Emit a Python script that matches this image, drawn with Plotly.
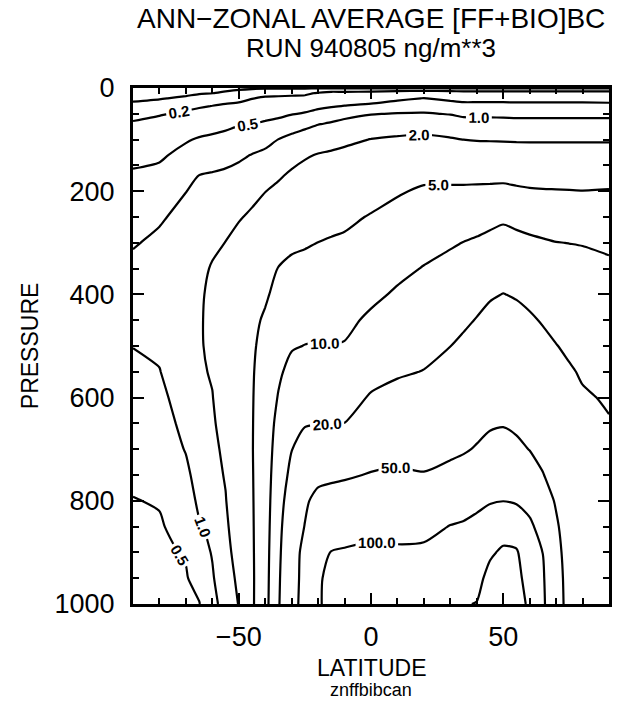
import numpy as np
import plotly.graph_objects as go

# Latitude nodes (deg) and pressure nodes (hPa)
lat = [-90, -80, -70, -65, -60, -55, -50, -45, -40, -35, -30, -25, -20, -15, -10,
       0, 10, 20, 30, 35, 40, 45, 50, 55, 60, 65, 70, 75, 80, 90]
pres = [0, 10, 20, 35, 50, 70, 100, 130, 170, 200, 250, 300, 350, 400, 450, 500,
        550, 600, 650, 700, 750, 800, 850, 900, 950, 1000]

# Estimated BC concentration profiles (ng/m**3), one list per latitude, top -> surface
conc_by_lat = [
    [0.059, 0.071, 0.087, 0.117, 0.158, 0.218, 0.298, 0.409, 0.547, 0.623, 0.77, 0.96, 1.12, 1.22, 1.15, 1.01, 0.896, 0.794, 0.704, 0.625, 0.554, 0.49, 0.45, 0.41, 0.38, 0.35],
    [0.06, 0.076, 0.095, 0.135, 0.19, 0.24, 0.33, 0.45, 0.59, 0.71, 0.94, 1.1, 1.2, 1.3, 1.22, 1.1, 0.98, 0.86, 0.76, 0.67, 0.59, 0.52, 0.47, 0.43, 0.39, 0.36],
    [0.066, 0.086, 0.111, 0.163, 0.222, 0.30, 0.47, 0.60, 0.80, 0.99, 1.15, 1.3, 1.42, 1.5, 1.55, 1.5, 1.4, 1.27, 1.15, 1.03, 0.88, 0.74, 0.62, 0.53, 0.47, 0.42],
    [0.073, 0.095, 0.124, 0.185, 0.244, 0.34, 0.53, 0.70, 1.01, 1.15, 1.35, 1.55, 1.7, 1.8, 1.85, 1.85, 1.8, 1.7, 1.55, 1.38, 1.22, 1.1, 0.95, 0.8, 0.65, 0.48],
    [0.075, 0.099, 0.133, 0.203, 0.26, 0.37, 0.57, 0.76, 1.05, 1.18, 1.45, 1.77, 2.1, 2.3, 2.35, 2.3, 2.12, 1.95, 1.8, 1.6, 1.45, 1.3, 1.12, 1.03, 0.95, 0.85],
    [0.08, 0.11, 0.148, 0.22, 0.29, 0.42, 0.61, 0.82, 1.1, 1.27, 1.6, 2.02, 2.5, 2.9, 3.1, 3.2, 3.1, 2.9, 2.6, 2.35, 2.12, 1.92, 1.7, 1.5, 1.33, 1.2],
    [0.09, 0.117, 0.16, 0.235, 0.32, 0.48, 0.66, 0.9, 1.19, 1.41, 1.9, 2.4, 2.95, 3.5, 3.9, 4.2, 4.3, 4.3, 4.2, 4.0, 3.7, 3.35, 3.0, 2.65, 2.3, 2.05],
    [0.09, 0.14, 0.195, 0.26, 0.35, 0.498, 0.72, 1.02, 1.34, 1.65, 2.2, 2.8, 3.4, 3.9, 4.3, 4.55, 4.7, 4.78, 4.82, 4.85, 4.8, 4.75, 4.7, 4.65, 4.6, 4.6],
    [0.09, 0.16, 0.22, 0.29, 0.39, 0.55, 0.82, 1.13, 1.57, 1.98, 2.46, 3.03, 3.7, 4.6, 5.4, 6.0, 6.5, 6.8, 7.0, 7.0, 7.0, 7.0, 7.0, 7.05, 7.1, 7.2],
    [0.09, 0.17, 0.22, 0.31, 0.42, 0.61, 1.01, 1.31, 1.86, 2.26, 2.98, 3.9, 5.1, 5.9, 6.85, 7.9, 9.2, 10.3, 11.5, 12.6, 13.7, 14.8, 15.9, 16.9, 17.8, 18.5],
    [0.09, 0.17, 0.23, 0.33, 0.48, 0.73, 1.16, 1.58, 2.2, 2.6, 3.4, 4.5, 5.6, 6.7, 8.0, 9.6, 11.5, 13.7, 16.4, 19.7, 22.9, 27, 31, 34, 36, 38],
    [0.09, 0.18, 0.23, 0.37, 0.53, 0.84, 1.31, 1.88, 2.4, 2.8, 3.66, 4.74, 5.8, 7.0, 8.4, 10.1, 12.4, 15.3, 18.8, 27, 36, 45, 51, 60, 61, 62],
    [0.09, 0.21, 0.27, 0.42, 0.62, 0.98, 1.46, 2.06, 2.55, 2.98, 3.9, 5.03, 6.0, 7.15, 8.5, 10.2, 12.6, 15.7, 19.5, 27.9, 40.8, 60, 72, 84, 96, 97],
    [0.09, 0.24, 0.30, 0.47, 0.70, 1.07, 1.61, 2.16, 2.68, 3.1, 4.2, 5.25, 6.2, 7.5, 8.8, 10.1, 12.7, 15.9, 19.9, 29.9, 44.9, 61, 80, 101.5, 108, 108],
    [0.09, 0.235, 0.32, 0.51, 0.81, 1.19, 1.78, 2.25, 2.82, 3.33, 4.4, 5.45, 6.4, 7.5, 8.8, 10.3, 12.9, 16.1, 20.1, 30.7, 46.8, 63, 82, 104, 110, 112],
    [0.09, 0.25, 0.35, 0.57, 0.97, 1.33, 2.03, 2.46, 3.17, 3.86, 5.2, 6.2, 7.5, 8.9, 10.9, 13.5, 16.7, 20.9, 28.2, 38.3, 51.6, 67.7, 89, 108, 120, 128],
    [0.09, 0.27, 0.42, 0.69, 1.03, 1.44, 2.16, 2.73, 3.75, 4.74, 5.9, 7.2, 8.8, 10.65, 12.9, 15.5, 18.7, 23.6, 31.5, 41.6, 54, 68.6, 87, 106, 125, 140],
    [0.09, 0.29, 0.51, 0.73, 1.05, 1.47, 2.26, 3.01, 4.4, 5.38, 6.68, 8.3, 10.25, 12.1, 14.4, 17.0, 20.3, 25.5, 32.3, 40.6, 51.4, 67, 87.5, 108, 135, 160],
    [0.09, 0.27, 0.42, 0.66, 0.97, 1.34, 2.1, 2.86, 4.33, 5.46, 7.2, 9.45, 11.6, 13.8, 16.6, 19.9, 24.3, 29.9, 36.5, 44.8, 57, 76.5, 101.5, 127, 160, 185],
    [0.09, 0.26, 0.39, 0.61, 0.88, 1.26, 2.0, 2.77, 4.29, 5.5, 7.5, 10.1, 12.3, 14.9, 18.2, 22.1, 26.7, 32.4, 39.0, 47.3, 61.5, 82, 105, 130, 160, 195],
    [0.09, 0.26, 0.39, 0.61, 0.87, 1.24, 1.94, 2.69, 4.25, 5.6, 7.8, 10.7, 13.3, 16.6, 20.5, 24.5, 29.7, 35.6, 42.7, 52, 68, 89, 112.6, 139, 172, 203],
    [0.09, 0.26, 0.39, 0.61, 0.87, 1.24, 1.92, 2.67, 4.25, 5.66, 8.4, 11.5, 14.8, 18.9, 23, 27.5, 32.8, 39.2, 46.8, 58, 74.5, 95.3, 132, 187, 228, 240],
    [0.09, 0.26, 0.39, 0.61, 0.87, 1.22, 1.9, 2.65, 4.24, 5.8, 9.1, 12.2, 15.8, 20.2, 24.0, 28.6, 34.0, 40.5, 48.2, 60.8, 77.4, 99, 157, 215, 250, 275],
    [0.09, 0.26, 0.39, 0.6, 0.86, 1.2, 1.88, 2.6, 4.08, 5.5, 8.4, 11.6, 14.9, 19.2, 23, 27.2, 32.3, 38.2, 45.2, 55.6, 72, 93.5, 143, 210, 228, 240],
    [0.09, 0.26, 0.39, 0.6, 0.86, 1.2, 1.88, 2.56, 3.94, 5.3, 7.9, 10.97, 13.8, 17.4, 21.4, 25.3, 29.9, 35.5, 42, 49.3, 63, 83, 110, 135, 160, 183],
    [0.09, 0.26, 0.39, 0.6, 0.86, 1.2, 1.88, 2.55, 3.9, 5.2, 7.6, 10.5, 12.8, 15.7, 19.2, 22.7, 26.7, 31.3, 36.8, 43.2, 50.9, 63.6, 79.4, 99.5, 104, 106],
    [0.09, 0.26, 0.39, 0.6, 0.86, 1.2, 1.88, 2.55, 3.9, 5.15, 7.4, 10.1, 12.1, 14.4, 17.1, 20.3, 23.3, 26.8, 30.9, 35.6, 41, 47.2, 54, 60, 65, 68],
    [0.09, 0.26, 0.39, 0.6, 0.86, 1.2, 1.88, 2.55, 3.9, 5.1, 7.3, 9.95, 11.6, 13.5, 15.7, 18.3, 21, 23.5, 26, 28.5, 31, 33, 34.5, 35.5, 36, 36],
    [0.09, 0.26, 0.39, 0.6, 0.86, 1.2, 1.88, 2.55, 3.9, 5.05, 7.2, 9.8, 11.4, 13.1, 15.1, 17.2, 19.0, 21, 23, 25, 27, 28.5, 29.5, 30, 30.5, 30.5],
    [0.09, 0.26, 0.38, 0.59, 0.85, 1.2, 1.88, 2.54, 3.9, 5.17, 6.9, 9.2, 10.85, 12.15, 13.5, 15.2, 17.1, 19.1, 20.5, 21.5, 22.5, 23, 23.5, 24, 24.5, 25],
]

levels = [0.1, 0.2, 0.5, 1.0, 2.0, 5.0, 10.0, 20.0, 50.0, 100.0, 200.0]
labelled = [True, True, True, True, True, True, True, True, True, True, False]

x_ticks = [-50, 0, 50]
x_ticktext = ["\u221250", "0", "50"]
y_ticks = [0, 200, 400, 600, 800, 1000]

z = np.array(conc_by_lat).T

FONT = "Liberation Sans"

fig = go.Figure()
for lev, lab in zip(levels, labelled):
    fig.add_trace(go.Contour(
        x=lat, y=pres, z=z,
        autocontour=False,
        contours=dict(start=lev, end=lev, size=lev, coloring="lines",
                      showlabels=lab, labelformat=".1f",
                      labelfont=dict(family=FONT, size=15, color="black", weight="bold")),
        line=dict(color="black", width=2.2, smoothing=0.7),
        colorscale=[[0, "black"], [1, "black"]],
        showscale=False, hoverinfo="skip",
    ))

axis_common = dict(
    showline=True, linewidth=3, linecolor="black", mirror="ticks",
    ticks="inside", ticklen=11, tickwidth=2, tickcolor="black",
    showgrid=False, zeroline=False,
    tickfont=dict(family=FONT, size=27, color="black"),
)

fig.update_layout(
    width=632, height=701,
    margin=dict(l=133, r=23, t=88, b=97),
    paper_bgcolor="white", plot_bgcolor="white",
    showlegend=False,
    xaxis=dict(range=[-90, 90], tickvals=x_ticks, ticktext=x_ticktext,
               minor=dict(dtick=10, tick0=0, ticks="inside", ticklen=6, tickwidth=1.5,
                          tickcolor="black", showgrid=False),
               ticklabelstandoff=7, **axis_common),
    yaxis=dict(range=[1000, 0], tickvals=y_ticks,
               minor=dict(dtick=50, tick0=0, ticks="inside", ticklen=6, tickwidth=1.5,
                          tickcolor="black", showgrid=False),
               ticklabelstandoff=10, **axis_common),
    annotations=[
        dict(text="ANN\u2212ZONAL AVERAGE [FF+BIO]BC", x=0.5, y=1.134, xref="paper", yref="paper",
             xanchor="center", yanchor="middle", showarrow=False,
             font=dict(family=FONT, size=28, color="black")),
        dict(text="RUN 940805 ng/m**3", x=0.5, y=1.0775, xref="paper", yref="paper",
             xanchor="center", yanchor="middle", showarrow=False,
             font=dict(family=FONT, size=26, color="black")),
        dict(text="LATITUDE", x=0.5, y=-0.124, xref="paper", yref="paper",
             xanchor="center", yanchor="middle", showarrow=False,
             font=dict(family=FONT, size=23, color="black")),
        dict(text="znffbibcan", x=0.5, y=-0.167, xref="paper", yref="paper",
             xanchor="center", yanchor="middle", showarrow=False,
             font=dict(family=FONT, size=18, color="black")),
        dict(text="PRESSURE", x=-0.216, y=0.5, xref="paper", yref="paper",
             xanchor="center", yanchor="middle", showarrow=False, textangle=-90,
             font=dict(family=FONT, size=23, color="black")),
    ],
)

fig.write_html("out.html")
